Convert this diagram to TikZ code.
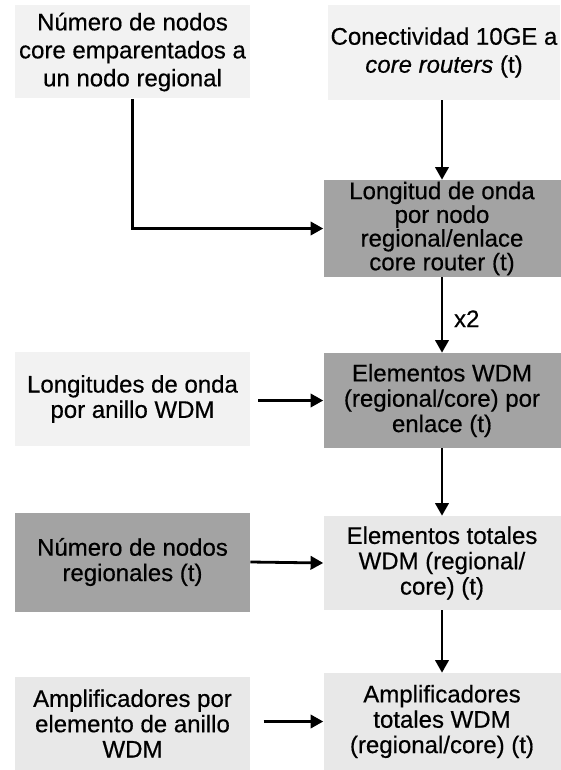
\documentclass[tikz,border=0pt]{standalone}
\usepackage{fontspec}
\setmainfont{Liberation Sans}[FakeBold=0.5]
\usetikzlibrary{arrows.meta}
\begin{document}
\begin{tikzpicture}[x=0.75pt,y=-0.75pt,
  boxbase/.style={rectangle, inner sep=0pt, align=center, draw=none},
  lightbox/.style={boxbase, fill=black!5},
  midbox/.style={boxbase, fill=black!9},
  darkbox/.style={boxbase, fill=black!36},
  lw/.style={minimum width=176.25pt},
  rw/.style={minimum width=177.75pt},
  fa/.style={font=\fontsize{18}{21}\selectfont},
  fb/.style={font=\fontsize{18}{19}\selectfont},
  fc/.style={font=\fontsize{18}{15}\selectfont},
  conn/.style={line width=2.1pt, -{Triangle[length=9.5pt,width=10pt]}},
  lab/.style={inner sep=0pt, font=\fontsize{18}{19}\selectfont}
]
\useasboundingbox (0,0) rectangle (560,770);

% left column
\node[lightbox, lw, fa, minimum height=69.75pt] (tl) at (132.5,52)
  {Número de nodos\\core emparentados a\\un nodo regional};
\node[lightbox, lw, fb, minimum height=70.5pt] (lo) at (132.5,399)
  {Longitudes de onda\\por anillo WDM};
\node[darkbox, lw, fb, minimum height=74.25pt] (nr) at (132.5,562)
  {Número de nodos\\regionales (t)};
\node[midbox, lw, fb, minimum height=69.75pt] (am) at (132.5,723.5)
  {Amplificadores por\\elemento de anillo\\WDM};

% right column
\node[lightbox, fa, minimum width=174pt, minimum height=71.25pt] (tr) at (444,52.5)
  {Conectividad 10GE a\\\textit{core routers} (t)};
\node[darkbox, rw, fc, minimum height=72.75pt] (lwn) at (442,228.5)
  {Longitud de onda\\por nodo\\regional/enlace\\core router (t)};
\node[darkbox, rw, fb, minimum height=71.25pt] (ew) at (442,400.5)
  {Elementos WDM\\(regional/core) por\\enlace (t)};
\node[midbox, rw, fb, minimum height=70.5pt] (et) at (442,563)
  {Elementos totales\\WDM (regional/\\core) (t)};
\node[midbox, rw, fb, minimum height=72.75pt] (at) at (442,721.5)
  {Amplificadores\\totales WDM\\(regional/core) (t)};

% connectors
\draw[conn] (tl) |- (lwn.west);
\draw[conn] (tr.south -| lwn.north) -- (lwn.north);
\draw[conn] (lwn.south) -- (ew.north) node[lab, pos=0.55, right=8pt] {x2};
\draw[conn, shorten <=6pt] (lo.east |- ew.west) -- (ew.west);
\draw[conn] (nr.east) -- (et.west);
\draw[conn] (ew.south) -- (et.north);
\draw[conn] (et.south) -- (at.north);
\draw[conn, shorten <=10pt] (am.east |- at.west) -- (at.west);
\end{tikzpicture}
\end{document}
